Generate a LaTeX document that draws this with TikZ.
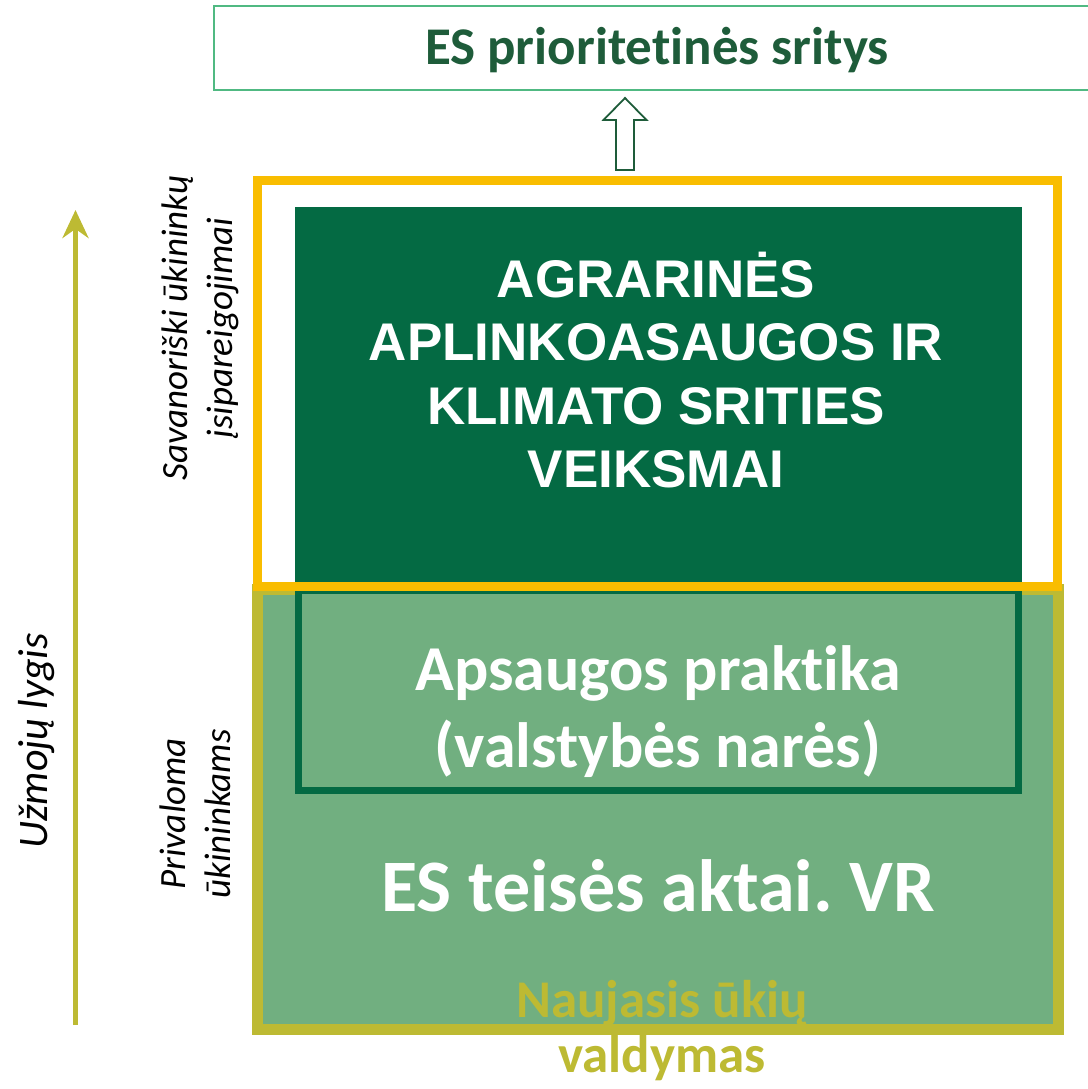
\documentclass[tikz,border=0pt]{standalone}
\usepackage{fontspec}
\setmainfont{Carlito}[Ligatures=NoCommon]
\newfontfamily\arialfont{Liberation Sans}
\usetikzlibrary{arrows.meta}
\definecolor{tamsi}{RGB}{4,106,67}
\definecolor{sviesi}{RGB}{113,175,128}
\definecolor{alyvu}{RGB}{189,186,51}
\definecolor{geltona}{RGB}{249,189,0}
\definecolor{remelis}{RGB}{80,185,130}
\definecolor{tekstas}{RGB}{30,92,58}
\frenchspacing
\begin{document}
\begin{tikzpicture}[>={Stealth[length=28pt,width=26pt]},x=1pt,y=-1pt,
	blokas/.style={rectangle,inner sep=0pt},
	sonas/.style={rotate=90,align=center,font=\itshape\fontsize{37}{45}\selectfont}]
	\useasboundingbox (0,0) rectangle (1087,1089);
	%	\draw[gray,dash pattern=on 1pt off 1pt,step=100pt] (0,0) grid (1087,1089);
	\node[blokas,draw=remelis,line width=2pt,minimum width=886pt,minimum height=84pt,text height=46pt,text depth=12pt,text=tekstas,font=\bfseries\fontsize{53}{60}\selectfont] (prio) at (657,48) {ES prioritetinės sritys};
	\node[blokas,draw=alyvu,fill=sviesi,line width=11pt,minimum width=800.5pt,minimum height=440pt] (privaloma) at (657.75,809) {};
	\node[blokas,draw=tamsi,fill=sviesi,line width=7pt,minimum width=720pt,minimum height=200pt] (praktika) at (658.5,690) {};
	\node[blokas,fill=tamsi,minimum width=727pt,minimum height=379pt] (veiksmai) at (658.5,396.5) {};
	\node[blokas,draw=geltona,line width=9pt,minimum width=800pt,minimum height=406pt] (savanor) at (657.5,383) {};
	% tekstai
	\node[text=white,align=center,font=\arialfont\bfseries\fontsize{53}{63.5}\selectfont] (agrar) at (656,370) {AGRARINĖS\\APLINKOASAUGOS IR\\KLIMATO SRITIES\\VEIKSMAI};
	\node[text=white,align=center,font=\bfseries\fontsize{64}{77}\selectfont] (apsaug) at (658,712) {Apsaugos praktika\\(valstybės narės)};
	\node[text=white,anchor=base,font=\bfseries\fontsize{74}{80}\selectfont] (teises) at (658,911) {ES teisės aktai. VR};
	\node[text=alyvu,align=center,font=\bfseries\fontsize{53}{55}\selectfont] (naujas) at (662,1031) {Naujasis ūkių\\valdymas};
	\node[sonas] (savtekst) at (200,328) {Savanoriški ūkininkų\\įsipareigojimai};
	\node[sonas] (privtekst) at (195,814) {Privaloma\\ūkininkams};
	\node[rotate=90,font=\itshape\fontsize{42}{50}\selectfont] (lygis) at (37,741) {Užmojų lygis};
	% rodykles
	\coordinate (apacia) at (75.5,1025);
	\coordinate (virsus) at (75.5,210);
	\draw[->,alyvu,line width=5.6pt] (apacia) -- (virsus);
	\coordinate (smaigalys) at (625,98);
	\draw[tekstas,line width=1.8pt,fill=white] (smaigalys) -- ++(21.5,22) -- ++(-12.5,0) -- ++(0,50) -- ++(-18,0) -- ++(0,-50) -- ++(-12.5,0) -- cycle;
\end{tikzpicture}
\end{document}
